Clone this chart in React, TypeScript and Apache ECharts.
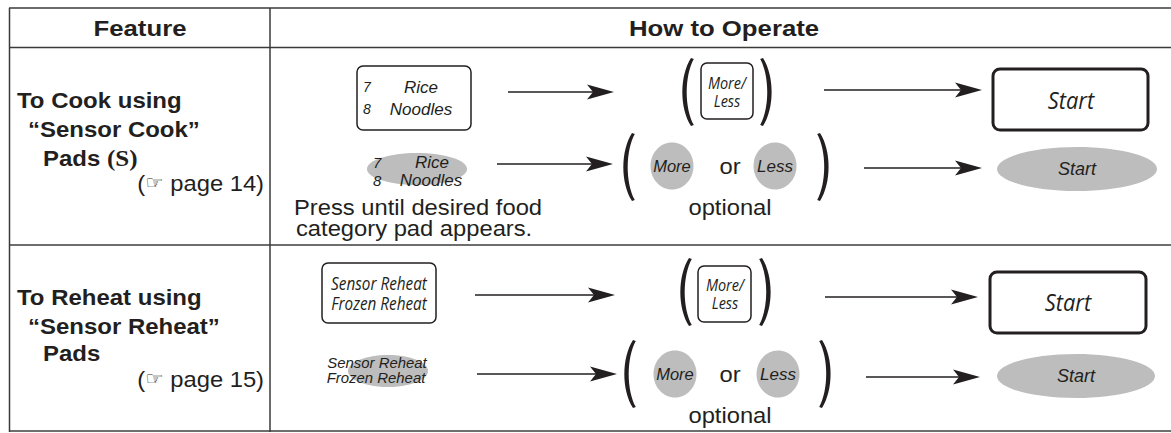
import React, { useEffect, useRef } from "react";
import * as echarts from "echarts";

// ---- content ----
const headerLabels = ["Feature", "How to Operate"];
const cookFeature = ["To Cook using", "“Sensor Cook”", "Pads {s|(S)}", "({h|☞} page 14)"];
const reheatFeature = ["To Reheat using", "“Sensor Reheat”", "Pads", "({h|☞} page 15)"];
const cookPadNums = ["7", "8"];
const cookPadNames = ["Rice", "Noodles"];
const reheatPadNames = ["Sensor Reheat", "Frozen Reheat"];
const moreLessPad = ["More/", "Less"];
const displayWords = ["More", "or", "Less"];
const startLabel = "Start";
const optionalLabel = "optional";
const pressNote = ["Press until desired food", "category pad appears."];

const INK = "#231f20";
const GRAY = "#bdbdbd";
const LINE = "#3a3a3a";
const LINE2 = "#6e6e6e";

const PAREN_D =
  "M10 0 C-1.5 18 -1.5 50 10 68 L12.8 67 C3.4 50 3.4 18 12.8 1 Z";

let registered = false;
function ensureShapes() {
  if (registered) return;
  registered = true;
  echarts.graphic.registerShape("paren", echarts.graphic.extendPath(PAREN_D, {}));
}

type TOpt = {
  size?: number;
  weight?: string;
  italic?: boolean;
  family?: string;
  align?: string;
  sx?: number;
  fill?: string;
  rich?: any;
};

function txt(x: number, y: number, text: string, o: TOpt = {}) {
  return {
    type: "text",
    x,
    y,
    scaleX: o.sx ?? 1,
    silent: true,
    style: {
      text,
      fill: o.fill ?? INK,
      fontSize: o.size ?? 22,
      fontWeight: o.weight ?? "normal",
      fontStyle: o.italic ? "italic" : "normal",
      fontFamily: o.family ?? "Liberation Sans",
      textAlign: o.align ?? "center",
      align: o.align ?? "center",
      textVerticalAlign: "middle",
      verticalAlign: "middle",
      rich: o.rich,
    },
  };
}

function hline(x1: number, y1: number, x2: number, y2: number, stroke: string, lw: number) {
  return { type: "line", silent: true, shape: { x1, y1, x2, y2 }, style: { stroke, lineWidth: lw } };
}

function arrow(x1: number, tip: number, y: number) {
  return [
    hline(x1, y, tip - 18, y, INK, 1.6),
    {
      type: "polygon",
      silent: true,
      shape: {
        points: [
          [tip, y],
          [tip - 27, y - 7.5],
          [tip - 21, y],
          [tip - 27, y + 7.5],
        ],
      },
      style: { fill: INK },
    },
  ];
}

function paren(x: number, y: number, right: boolean) {
  return {
    type: "paren",
    silent: true,
    x,
    y,
    scaleX: right ? -1 : 1,
    scaleY: 1,
    style: { fill: INK },
  };
}

function rrect(x: number, y: number, w: number, h: number, r: number, lw: number) {
  return {
    type: "rect",
    silent: true,
    shape: { x, y, width: w, height: h, r },
    style: { fill: "#ffffff", stroke: INK, lineWidth: lw },
  };
}

function ell(cx: number, cy: number, rx: number, ry: number) {
  return { type: "ellipse", silent: true, shape: { cx, cy, rx, ry }, style: { fill: GRAY } };
}

const MYRIAD = "Open Sans";

function featureColumn(lines: string[], ys: number[]) {
  const bold = { size: 22, weight: "bold", sx: 1.09 };
  return [
    txt(17, ys[0], lines[0], { ...bold, align: "left" }),
    txt(28, ys[1], lines[1], { ...bold, align: "left" }),
    txt(43, ys[2], lines[2], {
      ...bold,
      align: "left",
      rich: { s: { fontFamily: "Liberation Serif", fontWeight: "bold", fontSize: 23, fill: INK } },
    }),
    txt(264, ys[3], lines[3], {
      size: 22,
      sx: 1.08,
      align: "right",
      rich: { h: { fontFamily: "DejaVu Sans", fontSize: 19, fill: INK } },
    }),
  ];
}

function moreOrLess(y: number, xs: number[]) {
  return [
    ell(xs[0], y, 21.5, 23.5),
    ell(xs[2], y, 21.5, 23.5),
    txt(xs[0], y, displayWords[0], { size: 16.5, italic: true }),
    txt(xs[1], y, displayWords[1], { size: 22, sx: 1.08 }),
    txt(xs[2], y, displayWords[2], { size: 17, italic: true }),
  ];
}

function buildGraphics() {
  const g: any[] = [];
  // table
  g.push(hline(9, 8, 1171, 8, LINE, 1.5));
  g.push(hline(9, 47.5, 1171, 47.5, LINE, 1.6));
  g.push(hline(9, 245, 1171, 245, LINE2, 2));
  g.push(hline(9, 431, 1171, 431, LINE2, 2));
  g.push(hline(9.5, 8, 9.5, 432, LINE, 1.5));
  g.push(hline(270, 8, 270, 432, LINE, 1.5));

  // headers
  g.push(txt(140, 28, headerLabels[0], { size: 23, weight: "bold", sx: 1.12 }));
  g.push(txt(724, 28, headerLabels[1], { size: 23, weight: "bold", sx: 1.12 }));

  // feature column
  g.push(...featureColumn(cookFeature, [100, 129, 158, 183]));
  g.push(...featureColumn(reheatFeature, [297, 326, 353, 379]));

  // ---- Row 1, line 1 ----
  g.push(rrect(357, 66, 114, 64, 6, 1.5));
  g.push(txt(363, 87, cookPadNums[0], { size: 14, italic: true, align: "left" }));
  g.push(txt(363, 109, cookPadNums[1], { size: 14, italic: true, align: "left" }));
  g.push(txt(421, 87, cookPadNames[0], { size: 17, italic: true }));
  g.push(txt(421, 109, cookPadNames[1], { size: 17, italic: true }));
  g.push(...arrow(508, 614, 92));
  g.push(paren(681, 58, false));
  g.push(paren(773, 58, true));
  g.push(rrect(701, 63, 52, 56, 6, 1.5));
  g.push(txt(727, 83, moreLessPad[0], { size: 17, italic: true, family: MYRIAD, sx: 0.85 }));
  g.push(txt(727, 101, moreLessPad[1], { size: 17, italic: true, family: MYRIAD, sx: 0.85 }));
  g.push(...arrow(824, 982, 90));
  g.push(rrect(993, 69, 155, 61, 7, 3));
  g.push(txt(1071, 100, startLabel, { size: 23, italic: true, family: MYRIAD, sx: 0.95 }));

  // ---- Row 1, line 2 ----
  g.push(ell(417, 169, 50, 16));
  g.push(txt(373, 162, cookPadNums[0], { size: 15, italic: true, align: "left" }));
  g.push(txt(373, 180, cookPadNums[1], { size: 15, italic: true, align: "left" }));
  g.push(txt(432, 162, cookPadNames[0], { size: 17, italic: true }));
  g.push(txt(431, 180, cookPadNames[1], { size: 17, italic: true }));
  g.push(txt(294, 207, pressNote[0], { size: 22, sx: 1.08, align: "left" }));
  g.push(txt(296, 228, pressNote[1], { size: 22, sx: 1.08, align: "left" }));
  g.push(...arrow(497, 613, 164));
  g.push(paren(622, 133, false));
  g.push(paren(830, 133, true));
  g.push(...moreOrLess(166, [672, 730, 775]));
  g.push(txt(730, 207, optionalLabel, { size: 22, sx: 1.08 }));
  g.push(...arrow(864, 982, 168));
  g.push(ell(1077, 169, 80, 22));
  g.push(txt(1077, 169, startLabel, { size: 18, italic: true }));

  // ---- Row 2, line 1 ----
  g.push(rrect(322, 263, 114, 60, 6, 1.5));
  g.push(txt(379, 283, reheatPadNames[0], { size: 18, italic: true, family: MYRIAD, sx: 0.85 }));
  g.push(txt(379, 303, reheatPadNames[1], { size: 18, italic: true, family: MYRIAD, sx: 0.85 }));
  g.push(...arrow(475, 615, 295));
  g.push(paren(679, 258, false));
  g.push(paren(772, 258, true));
  g.push(rrect(698, 266, 53, 56, 6, 1.5));
  g.push(txt(725, 285, moreLessPad[0], { size: 17, italic: true, family: MYRIAD, sx: 0.85 }));
  g.push(txt(725, 303, moreLessPad[1], { size: 17, italic: true, family: MYRIAD, sx: 0.85 }));
  g.push(...arrow(825, 978, 297));
  g.push(rrect(990, 272, 156, 61, 7, 3));
  g.push(txt(1068, 302, startLabel, { size: 23, italic: true, family: MYRIAD, sx: 0.95 }));

  // ---- Row 2, line 2 ----
  g.push(ell(388, 371, 40, 16));
  g.push(txt(377, 363.5, reheatPadNames[0], { size: 14.5, italic: true, sx: 1.03 }));
  g.push(txt(376, 378.5, reheatPadNames[1], { size: 14.5, italic: true, sx: 1.03 }));
  g.push(...arrow(477, 617, 374));
  g.push(paren(623, 340, false));
  g.push(paren(832, 340, true));
  g.push(...moreOrLess(374, [675, 730, 778]));
  g.push(txt(730, 415, optionalLabel, { size: 22, sx: 1.08 }));
  g.push(...arrow(866, 980, 377));
  g.push(ell(1076, 376, 79, 22));
  g.push(txt(1076, 376, startLabel, { size: 18, italic: true }));

  return g;
}

export default function App() {
  const ref = useRef<HTMLDivElement>(null);
  useEffect(() => {
    document.body.style.margin = "0";
    ensureShapes();
    if (!ref.current) return;
    const chart = echarts.init(ref.current, undefined, { renderer: "svg" });
    chart.setOption({
      animation: false,
      backgroundColor: "#ffffff",
      graphic: { elements: buildGraphics() },
    });
    return () => chart.dispose();
  }, []);
  return <div ref={ref} style={{ width: 1171, height: 433, background: "#fff" }} />;
}
